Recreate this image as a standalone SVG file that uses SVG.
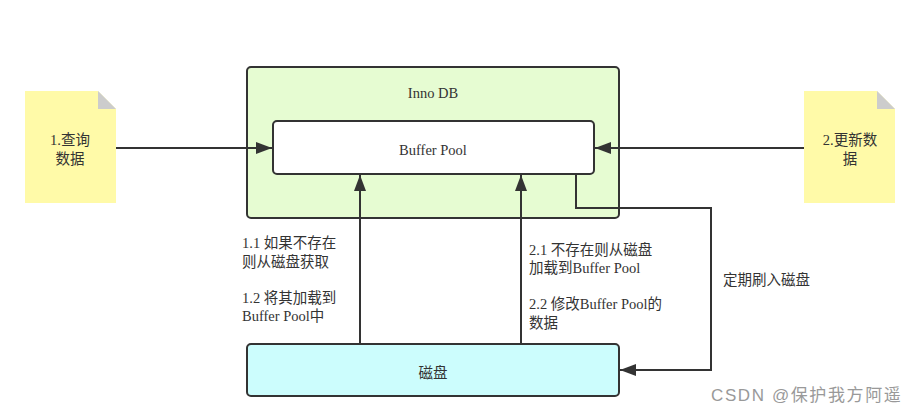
<svg xmlns="http://www.w3.org/2000/svg" width="916" height="413" viewBox="0 0 916 413">
<defs>
<style>
.t{font-family:"Liberation Serif","Noto Sans CJK SC",serif;font-size:14.5px;fill:#333}
.c{text-anchor:middle}
.box{stroke:#333;stroke-width:2}
.ln{fill:none;stroke:#333;stroke-width:2}
.note{fill:#fffaa8}
.fold{fill:#cccccc}
</style>
<marker id="ah" viewBox="0 0 16 12" refX="16" refY="6" markerWidth="16" markerHeight="12" markerUnits="userSpaceOnUse" orient="auto">
<path d="M0,0 L16,6 L0,12 z" fill="#333"/>
</marker>
</defs>
<rect width="916" height="413" fill="#fff"/>
<g id="innodb">
<rect class="box" x="247" y="67" width="372" height="151" rx="4" fill="#e6fcd2"/>
<text class="t c" x="433" y="98">Inno DB</text>
</g>
<g id="bufferpool">
<rect class="box" x="273" y="121" width="321" height="53" rx="4" fill="#fff"/>
<text class="t c" x="433" y="155">Buffer Pool</text>
</g>
<g id="disk">
<rect class="box" x="247" y="344" width="372" height="52" rx="4" fill="#ccfdfd"/>
<text class="t c" x="433" y="378">磁盘</text>
</g>
<g id="note1">
<path class="note" d="M25,91 H98 L116,109 V203 H25 z"/>
<path class="fold" d="M98,91 L116,109 H98 z"/>
<text class="t c" x="70" y="145">1.查询</text>
<text class="t c" x="70" y="164">数据</text>
</g>
<g id="note2">
<path class="note" d="M804,91 H877 L895,109 V203 H804 z"/>
<path class="fold" d="M877,91 L895,109 H877 z"/>
<text class="t c" x="850" y="145">2.更新数</text>
<text class="t c" x="850" y="164">据</text>
</g>
<g id="connectors">
<line class="ln" x1="116" y1="148" x2="272" y2="148" marker-end="url(#ah)"/>
<line class="ln" x1="804" y1="148" x2="595" y2="148" marker-end="url(#ah)"/>
<line class="ln" x1="360" y1="344" x2="360" y2="175" marker-end="url(#ah)"/>
<line class="ln" x1="521" y1="344" x2="521" y2="175" marker-end="url(#ah)"/>
<polyline class="ln" points="576,174 576,208 711,208 711,370 620,370" marker-end="url(#ah)"/>
</g>
<g id="labels">
<text class="t" x="242" y="248">1.1 如果不存在</text>
<text class="t" x="242" y="267">则从磁盘获取</text>
<text class="t" x="242" y="303">1.2 将其加载到</text>
<text class="t" x="242" y="321">Buffer Pool中</text>
<text class="t" x="529" y="255">2.1 不存在则从磁盘</text>
<text class="t" x="529" y="273">加载到Buffer Pool</text>
<text class="t" x="529" y="309">2.2 修改Buffer Pool的</text>
<text class="t" x="529" y="328">数据</text>
<text class="t" x="723" y="285">定期刷入磁盘</text>
</g>
<text x="711" y="401" style="font-family:'Liberation Sans','Noto Sans CJK SC',sans-serif;font-size:17px;letter-spacing:1.6px;fill:#999">CSDN @保护我方阿遥</text>
</svg>
